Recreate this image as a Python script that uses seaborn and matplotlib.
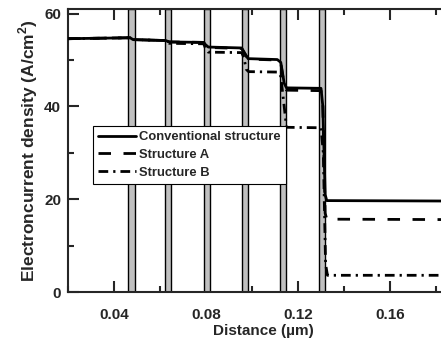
import numpy as np
import pandas as pd
import matplotlib
matplotlib.use("Agg")
import matplotlib.pyplot as plt
import seaborn as sns
from matplotlib.ticker import MultipleLocator

# ---- data ----
x_conv = [0.020, 0.047, 0.0483, 0.0625, 0.0640, 0.0790, 0.0798, 0.0810, 0.0955, 0.0968,
          0.0983, 0.1110, 0.1125, 0.1140, 0.1150, 0.1300, 0.1308, 0.1318, 0.1325, 0.190]
y_conv = [54.6, 54.8, 54.4, 54.2, 53.9, 53.8, 53.3, 52.8, 52.6, 51.5,
          50.3, 50.1, 49.5, 45.0, 44.0, 43.9, 40.0, 21.0, 19.7, 19.6]

x_a = [0.020, 0.047, 0.0483, 0.0625, 0.0640, 0.0790, 0.0798, 0.0810, 0.0955, 0.0968,
       0.0983, 0.1110, 0.1125, 0.1140, 0.1150, 0.1300, 0.1308, 0.1318, 0.1325, 0.190]
y_a = [54.6, 54.8, 54.4, 54.2, 53.9, 53.8, 53.3, 52.7, 52.5, 51.4,
       50.2, 50.0, 49.3, 44.6, 43.5, 43.4, 40.0, 17.0, 15.7, 15.6]

x_b = [0.020, 0.047, 0.0483, 0.0625, 0.0640, 0.0790, 0.0798, 0.0810, 0.0955, 0.0965,
       0.0975, 0.0985, 0.1115, 0.1125, 0.1140, 0.1150, 0.1300, 0.1310, 0.1320, 0.1328, 0.190]
y_b = [54.6, 54.8, 54.4, 54.2, 53.6, 53.5, 52.5, 51.7, 51.6, 50.5,
       48.0, 47.5, 47.4, 46.5, 40.0, 35.5, 35.4, 30.0, 6.0, 3.6, 3.6]

series_names = ["Conventional structure", "Structure A", "Structure B"]
barrier_centers = [0.0476, 0.0635, 0.0804, 0.0970, 0.1135, 0.1305]
barrier_width = 0.0029

x_ticks = [0.04, 0.08, 0.12, 0.16]
y_ticks = [0, 20, 40, 60]

df = pd.concat([
    pd.DataFrame({"x": x_conv, "y": y_conv, "s": series_names[0]}),
    pd.DataFrame({"x": x_a, "y": y_a, "s": series_names[1]}),
    pd.DataFrame({"x": x_b, "y": y_b, "s": series_names[2]}),
], ignore_index=True)

# ---- style ----
sns.set_style("ticks")
plt.rcParams["font.family"] = ["Liberation Sans", "DejaVu Sans"]
plt.rcParams["font.weight"] = "bold"
plt.rcParams["mathtext.fontset"] = "custom"
plt.rcParams["mathtext.bf"] = "Liberation Sans:bold"
plt.rcParams["mathtext.rm"] = "Liberation Sans:bold"

fig = plt.figure(figsize=(4.41, 3.43), dpi=100)
W, H = 441, 343
x0, x1 = 0.02, 0.19
px_per = 92 / 0.04
left_px, top_px, bot_px = 68, 9, 292
ax_w = (x1 - x0) * px_per
ax = fig.add_axes([left_px / W, 1 - bot_px / H, ax_w / W, (bot_px - top_px) / H])

for c in barrier_centers:
    ax.axvspan(c - barrier_width / 2, c + barrier_width / 2, ymin=0, ymax=1,
               facecolor="#c0c0c0", edgecolor="black", linewidth=1.0, zorder=1)

sns.lineplot(data=df, x="x", y="y", hue="s", style="s",
             palette=["black", "black", "black"],
             dashes={series_names[0]: "", series_names[1]: (4.5, 4.5), series_names[2]: (3.5, 1.8, 0.8, 1.8)},
             estimator=None, sort=False, linewidth=2.0, ax=ax, zorder=3)

ax.set_xlim(x0, x1)
ax.set_ylim(0, 61)
ax.xaxis.set_minor_locator(MultipleLocator(0.02))
ax.yaxis.set_minor_locator(MultipleLocator(10))
ax.set_xticks(x_ticks)
ax.set_xticklabels([f"{v:.2f}" for v in x_ticks])
ax.set_yticks(y_ticks)
ax.set_yticklabels([str(v) for v in y_ticks])
ax.tick_params(which="major", direction="in", length=8, width=1.5, labelsize=11,
               top=True, right=False)
ax.tick_params(axis="x", which="major", pad=11.5)
ax.tick_params(axis="y", which="major", pad=5)
ax.tick_params(which="minor", direction="in", length=4, width=1.5, top=True, right=False)
for lab in ax.get_xticklabels() + ax.get_yticklabels():
    lab.set_fontweight("bold")
for sp in ax.spines.values():
    sp.set_linewidth(1.5)
    sp.set_visible(True)

ax.set_xlabel("Distance (\u00b5m)", fontsize=11, fontweight="bold", labelpad=1.5)
ax.set_ylabel(r"Electroncurrent density (A/cm$^{\mathbf{2}}$)", fontsize=12.5,
              fontweight="bold", labelpad=3)

leg = ax.legend(loc="upper left",
                bbox_to_anchor=((93 - left_px) / ax_w, 1 - (126 - top_px) / (bot_px - top_px)),
                frameon=True, fancybox=False, edgecolor="black", fontsize=9.4,
                handlelength=2.9, handletextpad=0.25, borderpad=0.4, labelspacing=0.42,
                borderaxespad=0)
leg.get_frame().set_linewidth(0.8)
leg.get_frame().set_alpha(1)
for t in leg.get_texts():
    t.set_fontweight("bold")
for h in leg.get_lines():
    h.set_linewidth(2.0)

fig.savefig("out.png", dpi=100)
